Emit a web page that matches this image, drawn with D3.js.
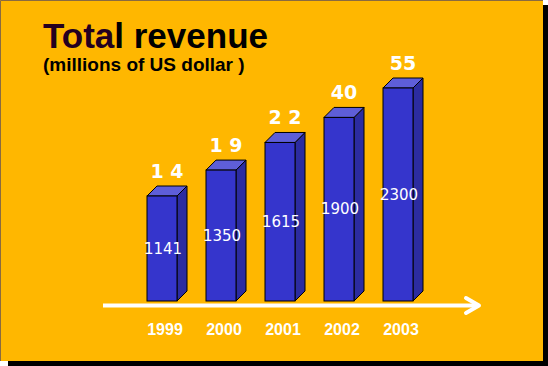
<!DOCTYPE html>
<html><head><meta charset="utf-8">
<script src="https://cdn.jsdelivr.net/npm/d3@7/dist/d3.min.js"></script>
<style>html,body{margin:0;padding:0;background:#fff;}svg{display:block;}</style>
</head><body>
<svg id="c" width="548" height="366"></svg>
<script>
const years = ["1999", "2000", "2001", "2002", "2003"];
const revenue = [1141, 1350, 1615, 1900, 2300];
const topLabels = ["1 4", "1 9", "2 2", "40", "55"];
const title = "Total revenue";
const subtitle = "(millions of US dollar )";

const svg = d3.select("#c");
const baseY = 301, barW = 30, depth = 10;

// frame: shadow + panel
svg.append("rect").attr("x", 8).attr("y", 5).attr("width", 540).attr("height", 361).attr("fill", "#000");
svg.append("rect").attr("x", 0).attr("y", 0).attr("width", 543).attr("height", 361).attr("fill", "#FFB700");
svg.append("path").attr("d", "M0.5,361 V0.5 H543").attr("fill", "none").attr("stroke", "#8a6a40").attr("stroke-width", 1);

// title
const t = svg.append("text").attr("x", 43).attr("y", 48)
  .attr("font-family", "Liberation Sans, Arial, sans-serif").attr("font-weight", "bold").attr("font-size", 35);
t.append("tspan").attr("fill", "#240020").text(title.slice(0, 4));
t.append("tspan").attr("fill", "#000").text(title.slice(4));
svg.append("text").attr("x", 43).attr("y", 71)
  .attr("font-family", "Liberation Sans, Arial, sans-serif").attr("font-weight", "bold").attr("font-size", 19)
  .attr("fill", "#000").text(subtitle);

// scales
const x = d3.scalePoint().domain(years).range([162, 398]);
const y = d3.scaleLog().domain([d3.min(revenue), d3.max(revenue)]).range([196, 88]);

const data = years.map((yr, i) => ({yr, v: revenue[i], top: topLabels[i]}));

const g = svg.append("g");
data.forEach(d => {
  const x0 = x(d.yr) - barW / 2, x1 = x0 + barW, yt = y(d.v);
  g.append("path").attr("d", `M${x1},${yt} L${x1 + depth},${yt - depth} L${x1 + depth},${baseY - depth} L${x1},${baseY} Z`)
    .attr("fill", "#2c2ca0").attr("stroke", "#000").attr("stroke-width", 1).attr("stroke-linejoin", "round");
  g.append("path").attr("d", `M${x0},${yt} L${x0 + depth},${yt - depth} L${x1 + depth},${yt - depth} L${x1},${yt} Z`)
    .attr("fill", "#5e5ed8").attr("stroke", "#000").attr("stroke-width", 1).attr("stroke-linejoin", "round");
  g.append("rect").attr("x", x0).attr("y", yt).attr("width", barW).attr("height", baseY - yt)
    .attr("fill", "#3535cc").attr("stroke", "#000").attr("stroke-width", 1);
  g.append("text").attr("x", x(d.yr) + 1).attr("y", (yt + baseY) / 2 + 5)
    .attr("text-anchor", "middle").attr("font-family", "DejaVu Sans, Verdana, sans-serif")
    .attr("font-size", 15).attr("fill", "#fff").text(d.v);
  g.append("text").attr("x", x(d.yr) + depth / 2).attr("y", yt - depth - 8)
    .attr("text-anchor", "middle").attr("font-family", "DejaVu Sans, Verdana, sans-serif")
    .attr("font-weight", "bold").attr("font-size", 19).attr("fill", "#fff").text(d.top);
  g.append("text").attr("x", x(d.yr) + depth / 2 - 2).attr("y", 335)
    .attr("text-anchor", "middle").attr("font-family", "Liberation Sans, Arial, sans-serif")
    .attr("font-weight", "bold").attr("font-size", 16).attr("fill", "#fff").text(d.yr);
});

// axis arrow
svg.append("line").attr("x1", 103).attr("x2", 478).attr("y1", 305.5).attr("y2", 305.5)
  .attr("stroke", "#fff").attr("stroke-width", 4);
svg.append("polyline").attr("points", "466,298 479,305.5 466,313")
  .attr("fill", "none").attr("stroke", "#fff").attr("stroke-width", 4)
  .attr("stroke-linecap", "round").attr("stroke-linejoin", "round");
</script>
</body></html>
